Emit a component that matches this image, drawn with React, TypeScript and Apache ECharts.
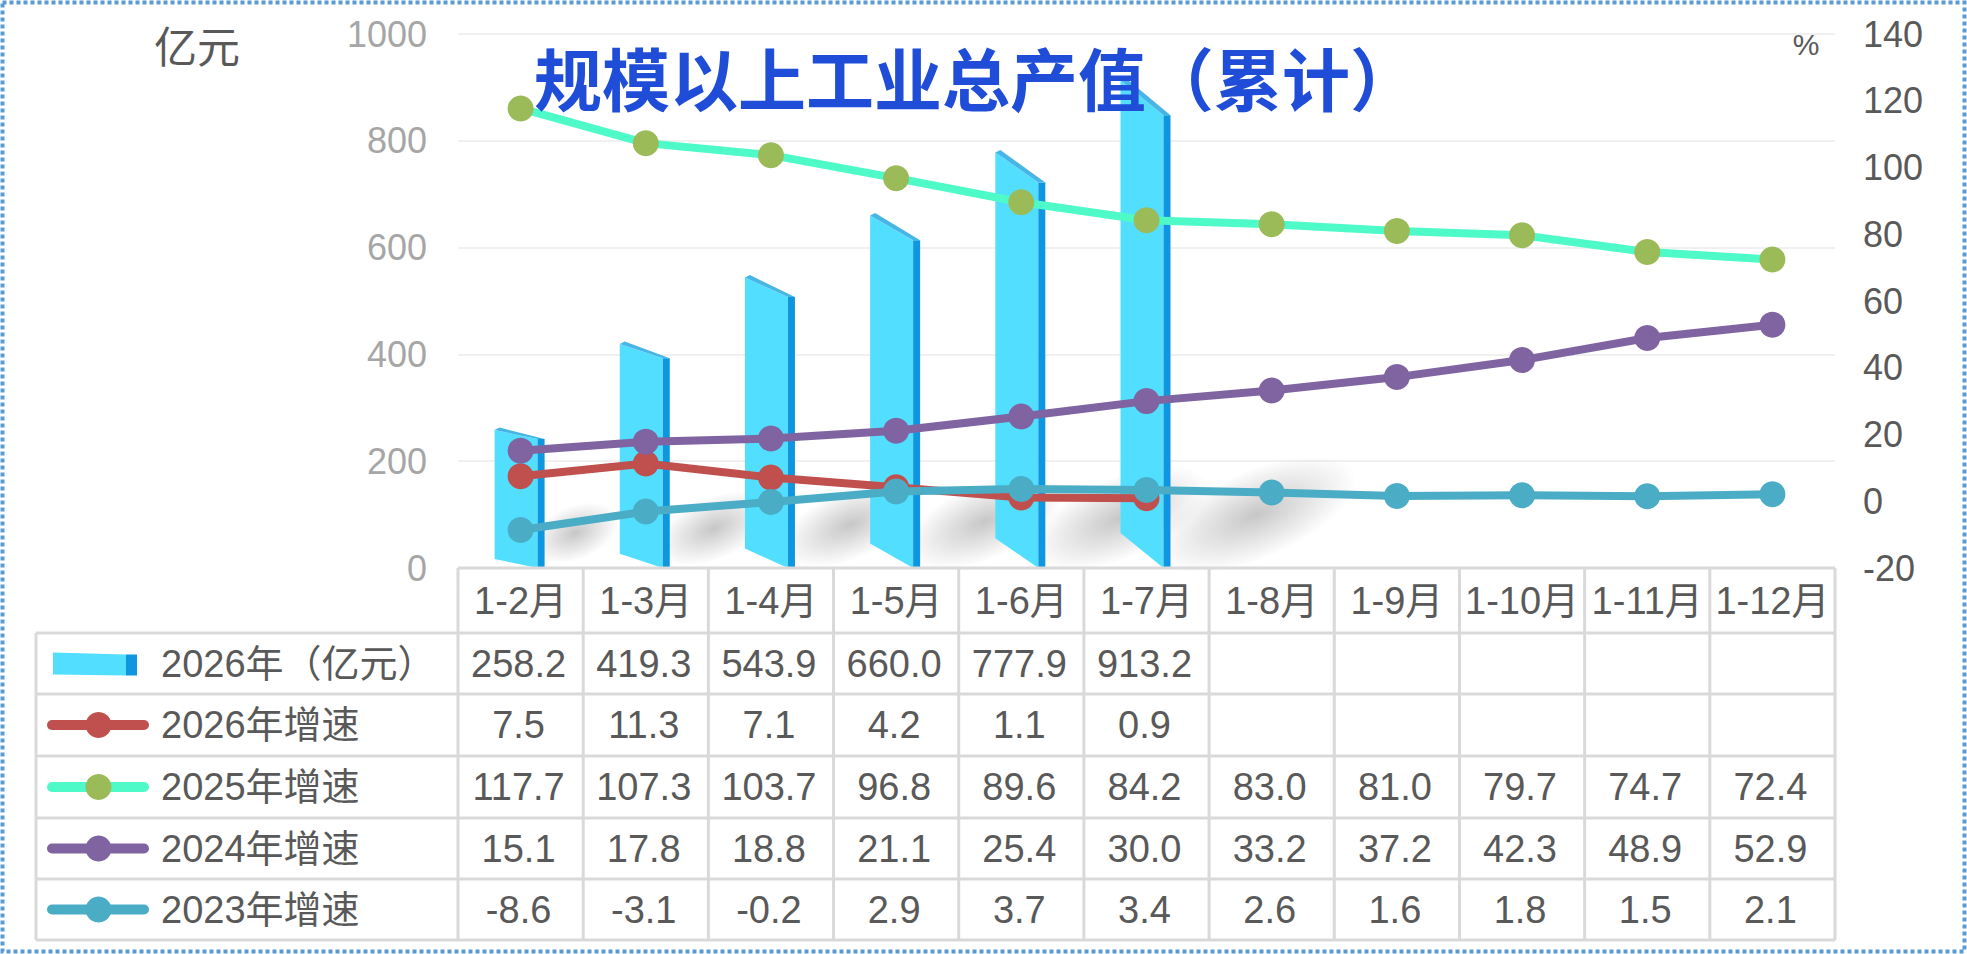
import React, { useEffect, useRef } from "react";
import * as echarts from "echarts";

const categories = ["1-2月", "1-3月", "1-4月", "1-5月", "1-6月", "1-7月", "1-8月", "1-9月", "1-10月", "1-11月", "1-12月"];
const output2026 = [258.2, 419.3, 543.9, 660.0, 777.9, 913.2];
const growth2026 = [7.5, 11.3, 7.1, 4.2, 1.1, 0.9];
const growth2025 = [117.7, 107.3, 103.7, 96.8, 89.6, 84.2, 83.0, 81.0, 79.7, 74.7, 72.4];
const growth2024 = [15.1, 17.8, 18.8, 21.1, 25.4, 30.0, 33.2, 37.2, 42.3, 48.9, 52.9];
const growth2023 = [-8.6, -3.1, -0.2, 2.9, 3.7, 3.4, 2.6, 1.6, 1.8, 1.5, 2.1];
const seriesNames = ["2026年（亿元）", "2026年增速", "2025年增速", "2024年增速", "2023年增速"];
const titleText = "规模以上工业总产值（累计）";
const leftUnit = "亿元";
const rightUnit = "%";

const W = 1967;
const H = 954;
const GL = 458;
const GR = 1835;
const GT = 34;
const AXY = 568;
const COLW = (GR - GL) / 11;
const ROWS = [633, 694, 756, 818, 879, 940];
const TL = 36;
const FONT = '"Liberation Sans", "Noto Sans CJK SC", sans-serif';
const TXT = "#595959";
const GRID_C = "#d9d9d9";

const lineColors = ["#c0504d", "#4dfac8", "#8064a2", "#4bacc6"];
const markerColors = ["#c0504d", "#9bbb59", "#8064a2", "#4bacc6"];

function txt(text: string, x: number, y: number, size: number, fill: string, align = "center", extra: any = {}) {
  return {
    type: "text",
    z: 50,
    style: {
      text,
      x,
      y,
      fill,
      fontSize: size,
      fontFamily: FONT,
      align,
      verticalAlign: "middle",
      textAlign: align,
      textVerticalAlign: "middle",
      ...extra,
    },
  };
}

function hline(x1: number, x2: number, y: number) {
  return { type: "line", z: 40, shape: { x1, y1: y, x2, y2: y }, style: { stroke: GRID_C, lineWidth: 3 } };
}
function vline(x: number, y1: number, y2: number) {
  return { type: "line", z: 40, shape: { x1: x, y1, x2: x, y2 }, style: { stroke: GRID_C, lineWidth: 3 } };
}

function buildGraphics() {
  const g: any[] = [];
  g.push({
    type: "rect",
    z: 60,
    shape: { x: 2.5, y: 2.5, width: W - 5, height: H - 5 },
    style: { fill: "none", stroke: "#5b9bd5", lineWidth: 4, lineDash: [4, 3] },
  });
  g.push(txt(leftUnit, 197, 44, 43, TXT, "center", { fontFamily: '"Noto Sans CJK SC", sans-serif' }));
  g.push(txt(rightUnit, 1806, 44, 30, TXT));
  g.push({
    type: "text",
    z: 100,
    style: {
      text: titleText,
      x: 534,
      y: 76,
      fill: "#1f4dd8",
      fontSize: 68,
      fontWeight: "bold",
      fontFamily: '"Noto Sans CJK SC", sans-serif',
      align: "left",
      verticalAlign: "middle",
      textAlign: "left",
      textVerticalAlign: "middle",
    },
  });
  // table lines
  g.push(hline(GL, GR, AXY));
  for (let k = 0; k <= 11; k++) g.push(vline(GL + k * COLW, AXY, ROWS[ROWS.length - 1]));
  ROWS.forEach((y) => g.push(hline(TL, GR, y)));
  g.push(vline(TL, ROWS[0], ROWS[ROWS.length - 1]));

  // legend cells
  const rowC = (r: number) => (ROWS[r] + ROWS[r + 1]) / 2;
  const c0 = rowC(0);
  g.push({ type: "polygon", z: 45, shape: { points: [[53, c0 - 11], [126, c0 - 9], [126, c0 + 12], [53, c0 + 11]] }, style: { fill: "#52dfff" } });
  g.push({ type: "rect", z: 45, shape: { x: 126, y: c0 - 9, width: 11, height: 21 }, style: { fill: "#0e96e0" } });
  for (let s = 0; s < 4; s++) {
    const c = rowC(s + 1);
    g.push({ type: "line", z: 45, shape: { x1: 52, y1: c, x2: 144, y2: c }, style: { stroke: lineColors[s], lineWidth: 10, lineCap: "round" } });
    g.push({ type: "circle", z: 46, shape: { cx: 98.5, cy: c, r: 13 }, style: { fill: markerColors[s] } });
  }
  seriesNames.forEach((n, r) => g.push(txt(n, 161, rowC(r), 38, TXT, "left")));

  const rowsData = [output2026, growth2026, growth2025, growth2024, growth2023];
  rowsData.forEach((arr, r) => {
    arr.forEach((v, i) => {
      g.push(txt(v.toFixed(1), GL + (i + 0.5) * COLW - 2, rowC(r), 38, TXT));
    });
  });
  return g;
}

function renderBar(params: any, api: any) {
  const idx = api.value(0);
  const top = api.coord([idx, api.value(1)]);
  const base = api.coord([idx, 0]);
  const cx = top[0];
  const x0 = cx - 26;
  const x1 = cx + 17;
  const sw = 7;
  const s = 9 + 5.2 * idx;
  const yt = top[1];
  const yb = base[1];
  const hgt = yb - yt;
  const L = 0.35 * hgt + 20;
  const shadow = {
    type: "circle",
    shape: { cx: 0, cy: 0, r: 1 },
    x: x1 + sw + L * 0.45,
    y: yb - 25 - L * 0.15,
    scaleX: L / 2 + 12,
    scaleY: 20 + 0.05 * hgt,
    rotation: 0.4,
    style: {
      fill: new echarts.graphic.RadialGradient(0.5, 0.5, 0.5, [
        { offset: 0, color: "rgba(0,0,0,0.22)" },
        { offset: 0.5, color: "rgba(0,0,0,0.11)" },
        { offset: 1, color: "rgba(0,0,0,0)" },
      ]),
    },
  };
  return {
    type: "group",
    children: [
      shadow,
      { type: "polygon", shape: { points: [[x0, yt], [x1, yt + s], [x1, yb], [x0, yb - s]] }, style: { fill: "#52dfff" } },
      { type: "polygon", shape: { points: [[x1, yt + s], [x1 + sw, yt + s], [x1 + sw, yb], [x1, yb]] }, style: { fill: "#0e96e0" } },
      { type: "polygon", shape: { points: [[x0, yt], [x0 + 5, yt - 2.5], [x1 + sw, yt + s], [x1, yt + s]] }, style: { fill: "#47b6e6" } },
    ],
  };
}

export default function App() {
  const ref = useRef<HTMLDivElement>(null);
  useEffect(() => {
    document.body.style.margin = "0";
    if (!ref.current) return;
    const chart = echarts.init(ref.current, undefined, { renderer: "svg" });
    const lineSeries = [growth2026, growth2025, growth2024, growth2023].map((d, s) => ({
      name: seriesNames[s + 1],
      type: "line",
      yAxisIndex: 1,
      data: d,
      symbol: "circle",
      symbolSize: 26,
      z: 5 + s,
      lineStyle: { color: lineColors[s], width: 8 },
      itemStyle: { color: markerColors[s] },
    }));
    chart.setOption({
      animation: false,
      backgroundColor: "#ffffff",
      grid: { left: GL, right: W - GR, top: GT, bottom: H - AXY, containLabel: false },
      xAxis: {
        type: "category",
        data: categories,
        axisLine: { show: false },
        axisTick: { show: false },
        axisLabel: { fontSize: 38, color: TXT, margin: 14, lineHeight: 38, fontFamily: FONT, interval: 0 },
      },
      yAxis: [
        {
          type: "value",
          min: 0,
          max: 1000,
          interval: 200,
          axisLine: { show: false },
          axisTick: { show: false },
          axisLabel: { fontSize: 36, color: "#a6a6a6", margin: 31, fontFamily: FONT, formatter: (v: number) => String(v) },
          splitLine: { lineStyle: { color: "#f0f0f0", width: 2 } },
        },
        {
          type: "value",
          min: -20,
          max: 140,
          interval: 20,
          axisLine: { show: false },
          axisTick: { show: false },
          axisLabel: { fontSize: 36, color: TXT, margin: 28, fontFamily: FONT, formatter: (v: number) => String(v) },
          splitLine: { show: false },
        },
      ],
      series: [
        {
          name: seriesNames[0],
          type: "custom",
          renderItem: renderBar,
          clip: false,
          z: 2,
          encode: { x: 0, y: 1 },
          data: output2026.map((v, i) => [i, v]),
        },
        ...lineSeries,
      ],
      graphic: buildGraphics(),
    });
    return () => chart.dispose();
  }, []);
  return <div ref={ref} style={{ width: W, height: H }} />;
}
